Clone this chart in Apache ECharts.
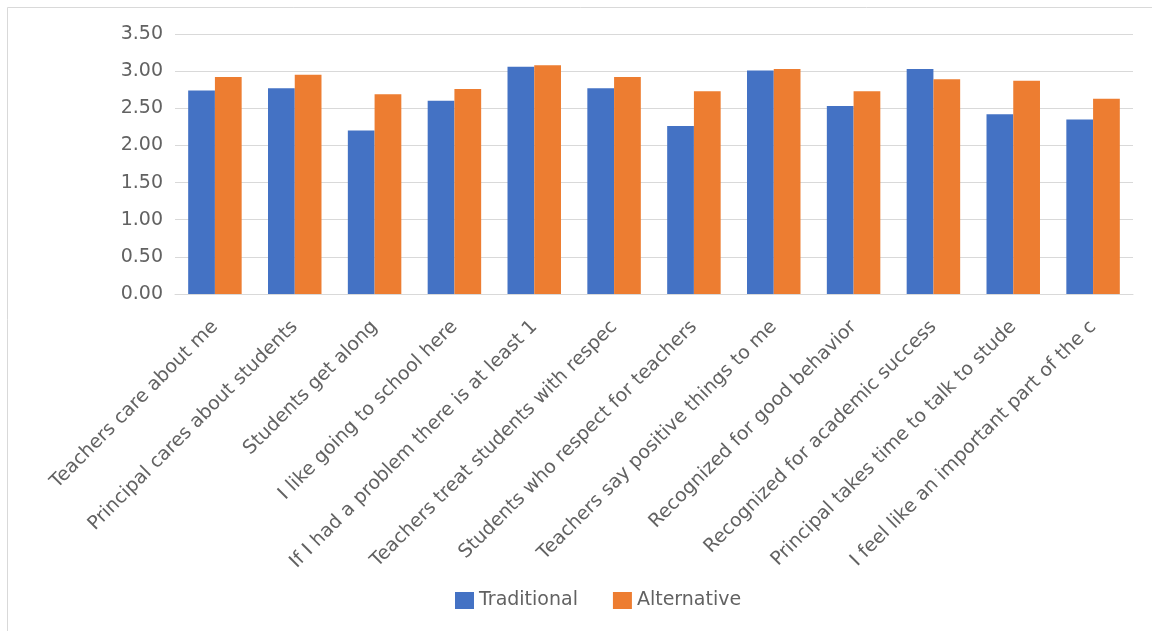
<!DOCTYPE html>
<html>
<head>
<meta charset="utf-8">
<style>
  html, body { margin: 0; padding: 0; background: #ffffff; }
  #chart { width: 1152px; height: 631px; }
</style>
<script src="https://cdn.jsdelivr.net/npm/echarts@6/dist/echarts.min.js"></script>
</head>
<body>
<div id="chart"></div>
<script>
// Survey statements (labels are kept as they appear on the axis)
const categories = [
  'Teachers care about me',
  'Principal cares about students',
  'Students get along',
  'I like going to school here',
  'If I had a problem there is at least 1',
  'Teachers treat students with respec',
  'Students who respect for teachers',
  'Teachers say positive things to me',
  'Recognized for good behavior',
  'Recognized for academic success',
  'Principal takes time to talk to stude',
  'I feel like an important part of the c'
];

// Mean rating per statement
const traditional = [2.74, 2.77, 2.20, 2.60, 3.06, 2.77, 2.26, 3.01, 2.53, 3.03, 2.42, 2.35];
const alternative = [2.92, 2.95, 2.69, 2.76, 3.08, 2.92, 2.73, 3.03, 2.73, 2.89, 2.87, 2.63];

const seriesNames = ['Traditional', 'Alternative'];

const FONT = '"DejaVu Sans", "Noto Sans", sans-serif';
const TEXT = '#626262';
const FONT_SIZE = 19;

const chart = echarts.init(document.getElementById('chart'), null, { renderer: 'canvas' });

chart.setOption({
  animation: false,
  backgroundColor: '#ffffff',
  textStyle: { fontFamily: FONT },
  graphic: [{
    // chart-area frame (top and left edges fall inside the canvas)
    type: 'rect',
    shape: { x: 7.5, y: 7.5, width: 1300, height: 800 },
    style: { fill: 'none', stroke: '#d9d9d9', lineWidth: 1 },
    silent: true
  }],
  grid: { left: 175, right: 19, top: 34, bottom: 337, containLabel: false },
  legend: {
    data: seriesNames,
    left: 450,
    top: 586,
    itemWidth: 19,
    itemHeight: 17,
    itemGap: 35,
    icon: 'rect',
    textStyle: { color: TEXT, fontSize: FONT_SIZE, fontFamily: FONT }
  },
  xAxis: {
    type: 'category',
    data: categories,
    axisTick: { show: false },
    axisLine: { show: true, lineStyle: { color: '#d9d9d9', width: 1 } },
    axisLabel: {
      interval: 0,
      rotate: 45,
      margin: 30,
      color: TEXT,
      fontSize: FONT_SIZE,
      fontFamily: FONT
    }
  },
  yAxis: {
    type: 'value',
    min: 0,
    max: 3.5,
    interval: 0.5,
    axisLine: { show: false },
    axisTick: { show: false },
    splitLine: { lineStyle: { color: '#d9d9d9', width: 1 } },
    axisLabel: {
      color: TEXT,
      fontSize: FONT_SIZE,
      fontFamily: FONT,
      margin: 12,
      formatter: v => v.toFixed(2)
    }
  },
  series: [
    {
      name: seriesNames[0],
      type: 'bar',
      data: traditional,
      barGap: '0%',
      barCategoryGap: '33%',
      itemStyle: { color: '#4472C4' }
    },
    {
      name: seriesNames[1],
      type: 'bar',
      data: alternative,
      barGap: '0%',
      barCategoryGap: '33%',
      itemStyle: { color: '#ED7D31' }
    }
  ]
});
</script>
</body>
</html>
